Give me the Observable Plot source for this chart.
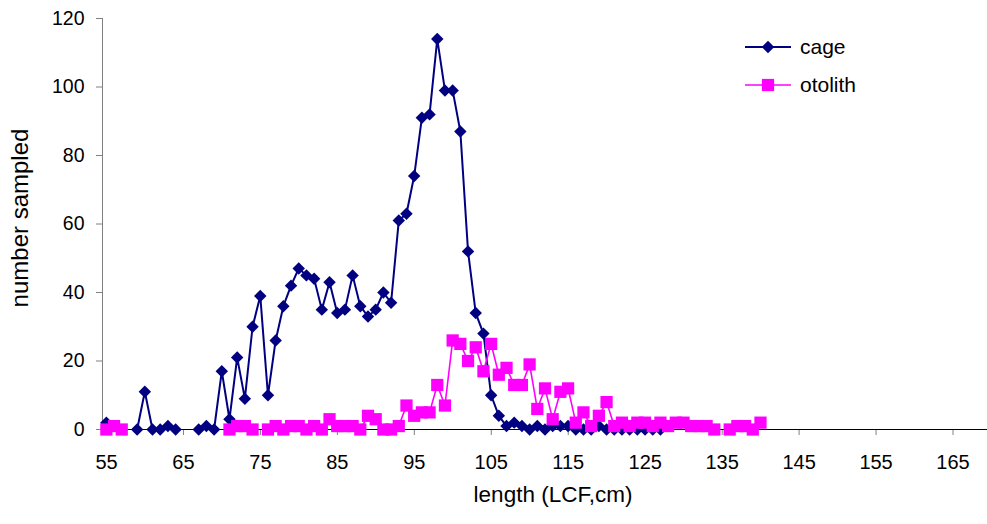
<!DOCTYPE html>
<html>
<head>
<meta charset="utf-8">
<script src="https://cdn.jsdelivr.net/npm/d3@7"></script>
<script src="https://cdn.jsdelivr.net/npm/@observablehq/plot@0.6"></script>
<style>
  html, body { margin: 0; padding: 0; background: #fff; }
  #chart { position: relative; width: 987px; height: 524px; }
  svg text { font-family: "Liberation Sans", Arial, sans-serif; }
</style>
</head>
<body>
<div id="chart"></div>
<script>
// ---- data ----
const xTicks = [55, 65, 75, 85, 95, 105, 115, 125, 135, 145, 155, 165];
const yTicks = [0, 20, 40, 60, 80, 100, 120];

const cageLength = [55.5,
  59.5, 60.5, 61.5, 62.5, 63.5, 64.5,
  67.5, 68.5, 69.5, 70.5, 71.5, 72.5, 73.5, 74.5, 75.5, 76.5, 77.5, 78.5, 79.5,
  80.5, 81.5, 82.5, 83.5, 84.5, 85.5, 86.5, 87.5, 88.5, 89.5, 90.5, 91.5, 92.5,
  93.5, 94.5, 95.5, 96.5, 97.5, 98.5, 99.5, 100.5, 101.5, 102.5, 103.5, 104.5,
  105.5, 106.5, 107.5, 108.5, 109.5, 110.5, 111.5, 112.5, 113.5, 114.5, 115.5,
  116.5, 117.5, 118.5, 119.5, 120.5, 121.5, 122.5, 123.5, 124.5, 125.5, 126.5, 127.5];
const cageCount = [2,
  0, 11, 0, 0, 1, 0,
  0, 1, 0, 17, 3, 21, 9, 30, 39, 10, 26, 36, 42,
  47, 45, 44, 35, 43, 34, 35, 45, 36, 33, 35, 40, 37,
  61, 63, 74, 91, 92, 114, 99, 99, 87, 52, 34, 28,
  10, 4, 1, 2, 1, 0, 1, 0, 1, 1, 1,
  0, 0, 0, 1, 0, 0, 0, 0, 0, 0, 0, 0];

const otolithLength = [55.5, 56.5, 57.5,
  71.5, 72.5, 73.5, 74.5,
  76.5, 77.5, 78.5, 79.5, 80.5, 81.5, 82.5, 83.5, 84.5, 85.5, 86.5, 87.5, 88.5,
  89.5, 90.5, 91.5, 92.5, 93.5, 94.5, 95.5, 96.5, 97.5, 98.5, 99.5, 100.5, 101.5,
  102.5, 103.5, 104.5, 105.5, 106.5, 107.5, 108.5, 109.5, 110.5, 111.5, 112.5,
  113.5, 114.5, 115.5, 116.5, 117.5, 118.5, 119.5, 120.5, 121.5, 122.5, 123.5,
  124.5, 125.5, 126.5, 127.5, 128.5, 129.5, 130.5, 131.5, 132.5, 133.5, 134.5,
  136.5, 137.5, 138.5, 139.5, 140.5];
const otolithCount = [0, 1, 0,
  0, 1, 1, 0,
  0, 1, 0, 1, 1, 0, 1, 0, 3, 1, 1, 1, 0,
  4, 3, 0, 0, 1, 7, 4, 5, 5, 13, 7, 26, 25,
  20, 24, 17, 25, 16, 18, 13, 13, 19, 6, 12,
  3, 11, 12, 2, 5, 1, 4, 8, 1, 2, 1,
  2, 2, 1, 2, 1, 2, 2, 1, 1, 1, 0,
  0, 1, 1, 0, 2];

const seriesNames = ["cage", "otolith"];
const seriesColors = ["#000080", "#FF00FF"];

// build tables; consecutive lengths form one line segment (blank cells break the line)
function table(lengths, counts) {
  let seg = 0;
  return lengths.map((x, i) => {
    if (i > 0 && x - lengths[i - 1] > 1) seg++;
    return {x, y: counts[i], seg};
  });
}
const cage = table(cageLength, cageCount);
const otolith = table(otolithLength, otolithCount);

const font = "'Liberation Sans', Arial, sans-serif";

const plot = Plot.plot({
  width: 987,
  height: 524,
  marginLeft: 102,
  marginRight: 0,
  marginTop: 18,
  marginBottom: 95,
  style: {fontFamily: font, fontSize: "20px", color: "#000", background: "#fff", overflow: "visible"},
  x: {domain: [55, 170]},
  y: {domain: [0, 120]},
  marks: [
    Plot.axisX({ticks: xTicks, tickSize: 6, tickPadding: 19, stroke: "#808080", fill: "#000", label: null, fontSize: 20, dx: 4}),
    Plot.axisY({ticks: yTicks, tickSize: 6, tickPadding: 12, stroke: "#808080", fill: "#000", label: null, fontSize: 19.5}),
    Plot.ruleX([55], {stroke: "#808080", strokeWidth: 1}),
    Plot.ruleY([0], {stroke: "#000", strokeWidth: 1}),
    Plot.text(["length (LCF,cm)"], {frameAnchor: "bottom", textAnchor: "middle", dx: 8, dy: 72, fontSize: 22.5, fill: "#000"}),
    Plot.text(["number sampled"], {frameAnchor: "left", textAnchor: "middle", rotate: -90, dx: -82, dy: -6, fontSize: 24, fill: "#000"}),
    Plot.line(cage, {x: "x", y: "y", z: "seg", stroke: seriesColors[0], strokeWidth: 2}),
    Plot.dot(cage, {x: "x", y: "y", symbol: "diamond2", r: 5.6, fill: seriesColors[0], stroke: "none"}),
    Plot.line(otolith, {x: "x", y: "y", z: "seg", stroke: seriesColors[1], strokeWidth: 1.6}),
    Plot.dot(otolith, {x: "x", y: "y", symbol: "square", r: 6.9, fill: seriesColors[1], stroke: "none"})
  ]
});

document.getElementById("chart").appendChild(plot);

// legend (top right inside plot area)
const svg = d3.select(plot);
const lg = svg.append("g").attr("class", "legend").attr("text-anchor", "start");
const symbols = [d3.symbol(d3.symbolDiamond2, 5.6 * 5.6 * Math.PI), d3.symbol(d3.symbolSquare, 6.9 * 6.9 * Math.PI)];
seriesNames.forEach((name, i) => {
  const y = 47 + i * 38;
  lg.append("line").attr("x1", 745).attr("x2", 791).attr("y1", y).attr("y2", y)
    .attr("stroke", seriesColors[i]).attr("stroke-width", i === 0 ? 2 : 1.6);
  lg.append("path").attr("d", symbols[i]()).attr("transform", `translate(768,${y})`).attr("fill", seriesColors[i]);
  lg.append("text").attr("x", 800).attr("y", y).attr("dy", "0.35em").attr("text-anchor", "start")
    .attr("font-size", 21).attr("font-family", font).attr("fill", "#000").text(name);
});
</script>
</body>
</html>
